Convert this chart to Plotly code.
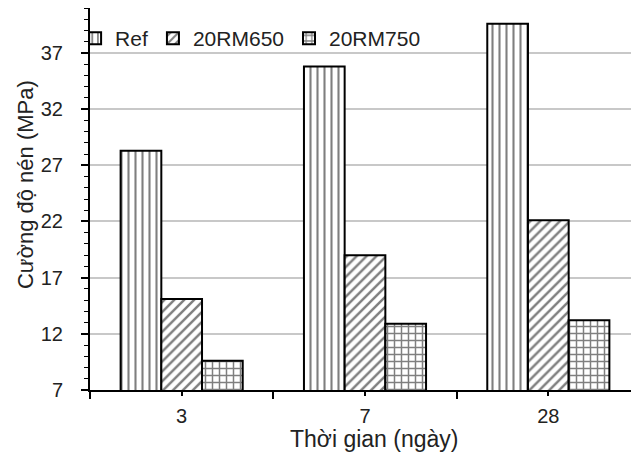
import plotly.graph_objects as go

categories = ["3", "7", "28"]
series_names = ["Ref", "20RM650", "20RM750"]
ref_values = [28.3, 35.8, 39.6]
rm650_values = [15.1, 19.0, 22.1]
rm750_values = [9.6, 12.9, 13.2]
y_tick_values = [7, 12, 17, 22, 27, 32, 37]

FONT = "Liberation Sans, Arial, sans-serif"
TXT = "#222222"
xpos = list(range(len(categories)))

patterns = ["|", "/", "+"]
psizes = [7, 7, 7]
psolid = [0.3, 0.35, 0.38]
values = [ref_values, rm650_values, rm750_values]

fig = go.Figure()
for name, vals, pat, ps, so in zip(series_names, values, patterns, psizes, psolid):
    fig.add_trace(go.Bar(
        x=xpos, y=vals, name=name,
        marker=dict(color="white",
                    line=dict(color="black", width=2),
                    pattern=dict(shape=pat, size=ps, solidity=so,
                                 fgcolor="black", bgcolor="white", fillmode="overlay")),
    ))

fig.update_layout(
    width=639, height=455,
    margin=dict(l=82, r=7, t=0, b=73, autoexpand=False),
    paper_bgcolor="white", plot_bgcolor="white",
    barmode="group", bargap=0.334, bargroupgap=0,
    font=dict(family=FONT, size=20, color=TXT),
    showlegend=True,
    legend=dict(orientation="h", xref="container", yref="container",
                x=0.105, y=0.978, xanchor="left", yanchor="top",
                font=dict(size=21, family=FONT, color=TXT), bgcolor="rgba(0,0,0,0)",
                itemwidth=30, tracegroupgap=0),
)

fig.update_xaxes(
    range=[-0.5, 2.5], automargin=False,
    tickvals=xpos, ticktext=categories,
    ticks="outside", ticklen=4, tickwidth=1.5, tickcolor="black",
    minor=dict(tickvals=[-0.5, 0.5, 1.5, 2.5], ticks="outside", ticklen=7,
               tickwidth=1.5, tickcolor="black"),
    showline=True, linecolor="black", linewidth=2, mirror=True,
    showgrid=False, zeroline=False,
    ticklabelstandoff=3,
    tickfont=dict(size=20, family=FONT, color=TXT),
)
fig.update_yaxes(
    range=[7, 41], automargin=False,
    tickvals=y_tick_values,
    ticks="outside", ticklen=7, tickwidth=1.5, tickcolor="black",
    minor=dict(dtick=1, tick0=7, ticks="outside", ticklen=4, tickwidth=1.2,
               tickcolor="black", showgrid=False),
    showline=True, linecolor="black", linewidth=2,
    showgrid=True, gridcolor="#c8c8c8", gridwidth=1.5,
    zeroline=False,
    ticklabelstandoff=14,
    tickfont=dict(size=20, family=FONT, color=TXT),
)

fig.add_annotation(text="Cường độ nén (MPa)", xref="paper", yref="paper",
                   x=-0.118, y=0.5366, xanchor="center", yanchor="middle", textangle=-90,
                   showarrow=False, font=dict(size=22, family=FONT, color=TXT))
fig.add_annotation(text="Thời gian (ngày)", xref="paper", yref="paper",
                   x=0.518, y=-0.128, xanchor="center", yanchor="middle",
                   showarrow=False, font=dict(size=23, family=FONT, color=TXT))

fig.write_html("out.html")
